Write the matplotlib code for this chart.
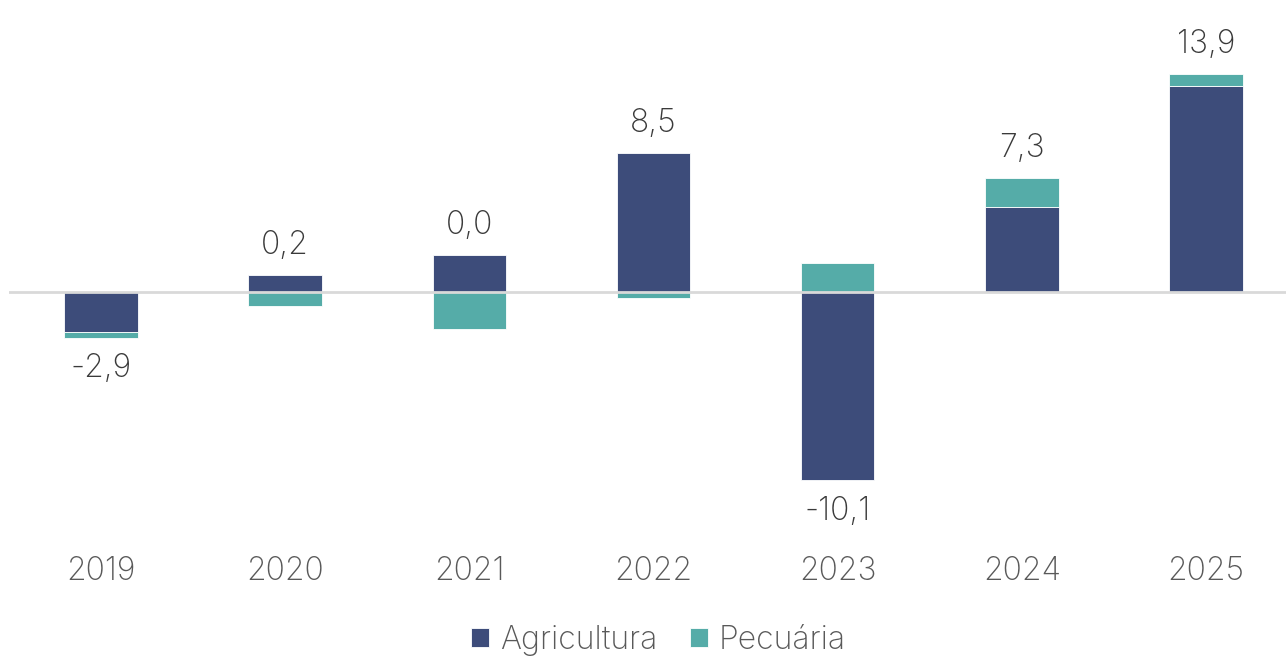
import matplotlib.pyplot as plt
import numpy as np

# dados (leitura do gráfico)
anos = ['2019', '2020', '2021', '2022', '2023', '2024', '2025']
agricultura = [-2.55, 1.08, 2.36, 8.85, -12.0, 5.41, 13.12]
pecuaria = [-0.38, -0.89, -2.36, -0.38, 1.85, 1.85, 0.76]
totais = [-2.9, 0.2, 0.0, 8.5, -10.1, 7.3, 13.9]

cor_agri = '#3d4c7a'
cor_pec = '#55aca8'
cor_texto = '#3a3a3a'

plt.rcParams['font.family'] = ['Inter', 'DejaVu Sans']
plt.rcParams['font.weight'] = 'light'

fig = plt.figure(figsize=(12.86, 6.60), dpi=100)
ax = fig.add_axes([9 / 1286, 130 / 660, 1277 / 1286, 510 / 660])

x = np.arange(len(anos))
agri = np.array(agricultura)
pec = np.array(pecuaria)

# empilhamento separado para positivos e negativos
pos_base = np.zeros(len(anos))
neg_base = np.zeros(len(anos))
largura = 0.40
for valores, cor, nome in [(agri, cor_agri, 'Agricultura'), (pec, cor_pec, 'Pecuária')]:
    base = np.where(valores >= 0, pos_base, neg_base)
    ax.bar(x, valores, largura, bottom=base, color=cor, edgecolor='white',
           linewidth=0.6, label=nome, zorder=2)
    pos_base = pos_base + np.where(valores >= 0, valores, 0)
    neg_base = neg_base + np.where(valores < 0, valores, 0)

ax.axhline(0, color='#d9d9d9', linewidth=2, zorder=3)

# rótulos dos totais
for i, t in enumerate(totais):
    rotulo = f'{t:.1f}'.replace('.', ',')
    if t >= 0:
        ax.annotate(rotulo, (x[i], pos_base[i]), xytext=(0, 10), textcoords='offset points',
                    ha='center', va='bottom', fontsize=23, color=cor_texto)
    else:
        ax.annotate(rotulo, (x[i], neg_base[i]), xytext=(0, -11), textcoords='offset points',
                    ha='center', va='top', fontsize=23, color=cor_texto)

ax.set_xlim(-0.5, 6.435)
ax.set_ylim(-15.16, 17.32)
ax.set_xticks(x)
ax.set_xticklabels(anos, fontsize=23, color='#595959')
ax.tick_params(axis='x', length=0, pad=19)
ax.set_yticks([])
for s in ax.spines.values():
    s.set_visible(False)

fig.legend(loc='center', bbox_to_anchor=(0.512, 0.03), ncol=2, frameon=False,
           prop={'size': 23, 'weight': 'light'}, labelcolor='#595959',
           handlelength=0.57, handleheight=0.57, handletextpad=0.35, columnspacing=1.0)

plt.savefig('out.png', dpi=100)
